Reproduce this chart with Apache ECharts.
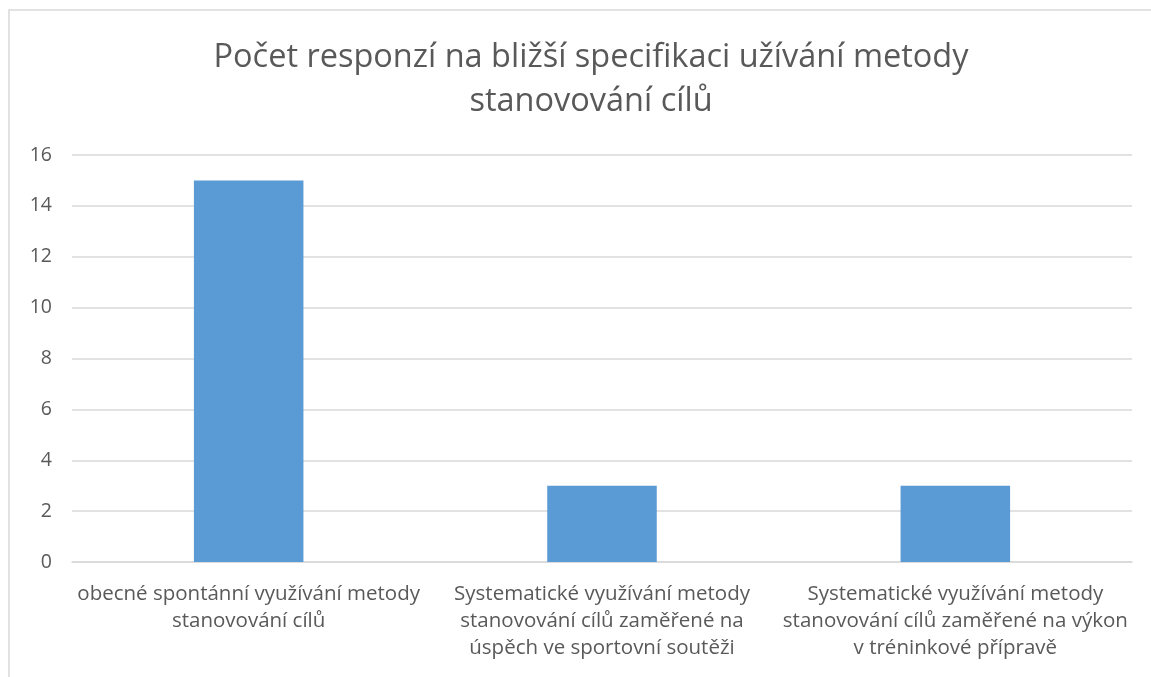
<!DOCTYPE html>
<html>
<head>
<meta charset="utf-8">
<script src="https://cdn.jsdelivr.net/npm/echarts@6/dist/echarts.min.js"></script>
<style>
html,body{margin:0;padding:0;background:#fff;}
#main{width:1151px;height:677px;}
</style>
</head>
<body>
<div id="main"></div>
<script>
var categories = [
    'obecné spontánní využívání metody\nstanovování cílů',
    'Systematické využívání metody\nstanovování cílů zaměřené na\núspěch ve sportovní soutěži',
    'Systematické využívání metody\nstanovování cílů zaměřené na výkon\nv tréninkové přípravě'
];
var values = [15, 3, 3];
var yTicks = [0, 2, 4, 6, 8, 10, 12, 14, 16];

var font = 'Open Sans';
var myChart = echarts.init(document.getElementById('main'));
var option = {
    backgroundColor: '#fff',
    animation: false,
    title: {
        text: 'Počet responzí na bližší specifikaci užívání metody\nstanovování cílů',
        left: 586,
        top: 31,
        textAlign: 'center',
        textStyle: {
            fontFamily: font,
            fontSize: 32.5,
            fontWeight: 'normal',
            color: '#595959',
            lineHeight: 44
        }
    },
    graphic: [
        {
            type: 'rect',
            shape: {x: 9, y: 10, width: 1200, height: 700},
            style: {fill: 'none', stroke: '#d9d9d9', lineWidth: 1.5},
            silent: true
        }
    ],
    grid: {left: 72, right: 19, top: 155, bottom: 115},
    xAxis: {
        type: 'category',
        data: categories,
        axisTick: {show: false},
        axisLine: {lineStyle: {color: '#d9d9d9', width: 1.5}},
        axisLabel: {
            interval: 0,
            margin: 19,
            fontFamily: font,
            fontSize: 20.5,
            lineHeight: 27,
            color: '#595959'
        }
    },
    yAxis: {
        type: 'value',
        min: yTicks[0],
        max: yTicks[yTicks.length - 1],
        interval: 2,
        axisLine: {show: false},
        axisTick: {show: false},
        splitLine: {lineStyle: {color: '#d9d9d9', width: 1.5}},
        axisLabel: {
            margin: 20,
            fontFamily: font,
            fontSize: 19.5,
            color: '#595959'
        }
    },
    series: [
        {
            type: 'bar',
            data: values,
            barWidth: '31%',
            itemStyle: {color: '#5b9bd5'}
        }
    ]
};
myChart.setOption(option);
</script>
</body>
</html>
